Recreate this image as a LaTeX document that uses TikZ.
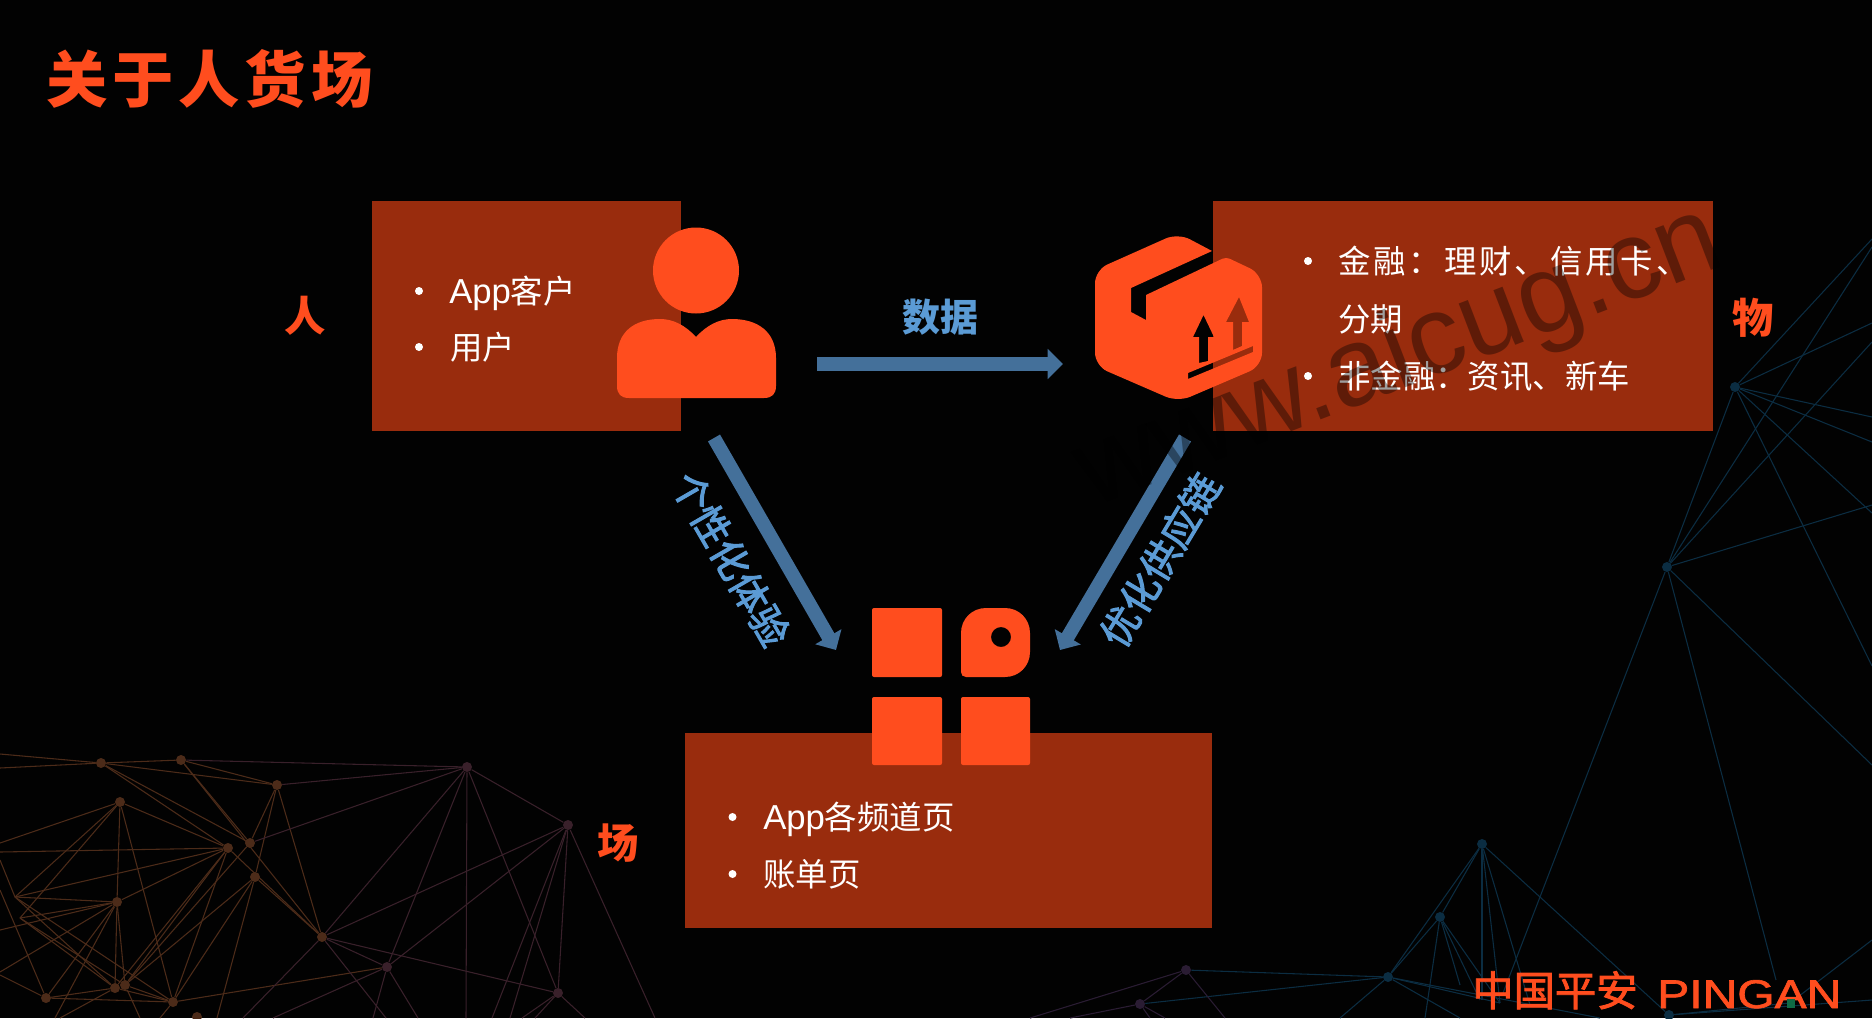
\documentclass[tikz,border=0pt]{standalone}
\usepackage{fontspec}
\usepackage{graphicx}
\setmainfont{Noto Sans CJK SC}
\newfontfamily\logofont{Liberation Sans}
\usetikzlibrary{arrows.meta}

\definecolor{pageBlack}{HTML}{020202}
\definecolor{boxRust}{HTML}{992C0D}
\definecolor{iconOrange}{HTML}{FF4D1E}
\definecolor{arrowBlue}{HTML}{44709A}
\definecolor{textBlue}{HTML}{5B9BD5}
\definecolor{logoGreen}{HTML}{0F6B45}
\definecolor{netBrown}{HTML}{4C2B19}
\definecolor{netWine}{HTML}{39202A}
\definecolor{netBlue}{HTML}{0B2D42}
\definecolor{netPlum}{HTML}{2A1C33}

\newcommand{\appword}{{\logofont\fontsize{26}{26}\selectfont App}}

\tikzset{
	infobox/.style={fill=boxRust, draw=none, inner sep=0pt, anchor=north west},
	itemtext/.style={font=\fontsize{24.3}{24.3}\selectfont, text=white, anchor=base west, inner sep=0pt},
	bulletdot/.style={circle, fill=white, inner sep=0pt, minimum size=6pt},
	sidelabel/.style={font=\fontsize{31}{31}\selectfont\bfseries, text=iconOrange, inner sep=0pt},
	flowlabel/.style={font=\fontsize{28.5}{28.5}\selectfont\bfseries, text=textBlue, inner sep=0pt},
	slantlabel/.style={font=\fontsize{29}{29}\selectfont\addfontfeature{FakeBold=2.5}, text=textBlue, inner sep=0pt},
	flowarrow/.style={draw=arrowBlue, line width=10.4pt, -{Triangle[length=11.5pt,width=22pt]}},
	netdot/.style={circle, fill=#1, inner sep=0pt, minimum size=7.5pt},
}

\begin{document}
\begin{tikzpicture}[x=0.75pt, y=-0.75pt]
	% page, coordinates are pixels of the slide
	\useasboundingbox (0,0) rectangle (1872,1018);
	\fill[pageBlack] (0,0) rectangle (1872,1018);

	% network lower left
	\foreach \name/\px/\py/\col in {
		la/101/763/netBrown, lb/181/760/netBrown, lc/277/785/netBrown,
		ld/467/767/netWine, le/568/825/netWine, lf/120/802/netBrown,
		lg/228/848/netBrown, lh/250/843/netBrown, li/255/877/netBrown,
		lj/117/902/netBrown, lm/322/937/netBrown, ln/387/967/netWine,
		lo/558/993/netWine, lp/115/988/netBrown, lq/125/985/netBrown,
		lr/173/1002/netBrown, ls/46/998/netBrown, lt/197/1017/netBrown} {
		\node[netdot=\col] (\name) at (\px,\py) {};
	}
	\coordinate (lk) at (15,897);
	\coordinate (ll) at (20,918);
	\foreach \a/\b in {
		la/lb, la/lc, lb/lc, lb/lm, lb/lh, la/lg, la/lh, lc/lh, lc/li, lc/lm,
		lf/lg, lf/lj, lf/lr, lf/lk, lf/ll, lg/lj, lg/lk, lg/lp, lg/lq, lg/lr,
		lh/lq, li/lq, li/lr, li/lm, lg/lm, lj/lk, lj/ll, lj/lp, lj/ls,
		lk/lp, lk/lr, ll/lp, ll/lq, lq/lr, lp/lr, ls/lp, ls/lr,
		lr/ln, la/{0,754}, la/{0,768}, lf/{0,843}, lg/{0,852}, lj/{0,972},
		lk/{0,860}, lj/{0,930}, ls/{0,975}, li/{217,1018}, lq/{140,1018},
		lp/{60,1018}, lr/{160,1018}, lj/lq, lj/{55,1018}, ls/{0,890}} {
		\draw[netBrown, line width=0.8pt] (\a) -- (\b);
	}
	\foreach \a/\b in {
		lb/ld, lc/ld, ld/lh, ld/lm, ld/ln, ld/lo, ld/le, le/lm, le/ln, le/lo,
		lm/ln, lm/lo, lm/{243,1018}, lm/{386,1018}, ln/{273,1018}, ln/{373,1018},
		ln/{418,1018}, ld/{466,1018}, le/{655,1018}, le/{492,1018}, le/{510,1018},
		lo/{522,1018}, lo/{535,1018}, lo/{585,1018}} {
		\draw[netWine, line width=0.8pt] (\a) -- (\b);
	}

	% network right side and lower right
	\foreach \name/\px/\py/\col in {
		ra/1735/387/netBlue, rb/1667/567/netBlue, rc/1482/844/netBlue,
		rd/1440/917/netBlue, re/1388/977/netBlue, rf/1669/1015/netBlue,
		rg/1186/970/netPlum, rh/1140/1004/netPlum} {
		\node[netdot=\col] (\name) at (\px,\py) {};
	}
	\foreach \a/\b in {
		ra/rb, ra/{1872,239}, ra/{1872,323}, ra/{1872,417}, ra/{1872,442},
		ra/{1872,513}, ra/{1872,666}, rb/{1872,247}, rb/{1872,342}, rb/{1872,505},
		rb/{1872,765}, rb/{1503,993}, rb/{1776,980}, rc/rd, rc/re, rc/rf,
		rc/{1482,1000}, rc/{1500,1003}, rc/{1530,1005}, rd/re, rd/{1425,1018},
		rd/{1480,1000}, rd/{1500,1003}, rd/{1460,985}, re/{1340,1018},
		re/{1460,1018}, re/{1500,1003}, re/{1600,1018}, rf/{1790,1003},
		rf/{1872,1000}, {1790,1003}/{1872,940}, re/rh, re/rg} {
		\draw[netBlue, line width=0.8pt] (\a) -- (\b);
	}
	\foreach \a/\b in {rg/rh, rg/{1030,1018}, rg/{1225,1018}, rh/{1070,1018}, rh/{1150,1018}, rh/{1165,1018}} {
		\draw[netPlum, line width=0.8pt] (\a) -- (\b);
	}

	% boxes
	\node[infobox, minimum width=231.75pt, minimum height=172.5pt] (renBox) at (372,201) {};
	\node[infobox, minimum width=375pt, minimum height=172.5pt] (huoBox) at (1213,201) {};
	\node[infobox, minimum width=395.25pt, minimum height=146.25pt] (changBox) at (685,733) {};

	% person icon
	\fill[iconOrange] (696,270.5) circle [radius=43];
	\fill[iconOrange] (696,337) .. controls (685,325) and (673,319) .. (660,319)
		.. controls (634,319) and (617,332) .. (617,358) -- (617,386)
		.. controls (617,394) and (621,398) .. (629,398) -- (764,398)
		.. controls (772,398) and (776,394) .. (776,386) -- (776,358)
		.. controls (776,332) and (758,319) .. (732,319)
		.. controls (719,319) and (707,325) .. (696,337) -- cycle;

	% parcel icon, holes show what lies below
	\fill[iconOrange, even odd rule]
		[rounded corners=10pt] (1095,320) -- (1095,270) -- (1178,233)
		[sharp corners] -- (1212,251) -- (1131,288) -- (1131,312) -- (1146,320) -- (1146,295)
		[rounded corners=3pt] -- (1226,257)
		[rounded corners=10pt] -- (1262,274) -- (1262,366) -- (1178,402) -- (1095,366) -- cycle
		[sharp corners]
		(1203.5,315) -- (1214,337) -- (1208,337) -- (1208,361) -- (1199,363) -- (1199,337) -- (1193,337) -- cycle
		(1239,297) -- (1249,322) -- (1242,322) -- (1242,346) -- (1233,350) -- (1233,322) -- (1226,322) -- cycle
		(1188,373) -- (1253,346) -- (1253,352) -- (1188,379) -- cycle;

	% scene icon
	\fill[iconOrange, rounded corners=1.5pt] (872,608) rectangle (942,677);
	\fill[iconOrange, rounded corners=1.5pt] (872,697) rectangle (942,765);
	\fill[iconOrange, rounded corners=1.5pt] (961,697) rectangle (1030,765);
	\fill[iconOrange, even odd rule] (961,633) .. controls (961,619) and (972,608) .. (986,608)
		-- (1005,608) .. controls (1019,608) and (1030,619) .. (1030,633)
		-- (1030,652) .. controls (1030,666) and (1019,677) .. (1005,677)
		-- (966,677) .. controls (963,677) and (961,675) .. (961,672) -- cycle
		(1001,637) circle [radius=10];

	% item lists
	\foreach \bx/\by in {419/291, 419/347, 1308/261, 1308/376, 732.5/817, 732.5/874} {
		\node[bulletdot] at (\bx,\by) {};
	}
	\node[itemtext] (renOne) at (449,303) {\appword 客户};
	\node[itemtext] (renTwo) at (450,359) {用户};
	\node[itemtext] (huoOne) at (1338,273) {\addfontfeature{LetterSpace=9}金融：理财、信用卡、};
	\node[itemtext] (huoTwo) at (1338,331) {分期};
	\node[itemtext] (huoThree) at (1338,388) {非金融：资讯、新车};
	\node[itemtext] (changOne) at (763,829) {\appword 各频道页};
	\node[itemtext] (changTwo) at (763,886) {账单页};

	% labels
	\node[inner sep=0pt, anchor=base west, text=iconOrange,
		font=\fontsize{46}{46}\selectfont\bfseries\addfontfeature{LetterSpace=8}]
		(titleText) at (46,102) {关于人货场};
	\node[sidelabel] (renLabel) at (305.5,316) {人};
	\node[sidelabel] (huoLabel) at (1753,318) {物};
	\node[sidelabel] (changLabel) at (618,843) {场};

	% flows
	\coordinate (dataStart) at (817,364);
	\coordinate (dataEnd) at (1063,364);
	\coordinate (leftStart) at (714,438);
	\coordinate (leftEnd) at (836,650);
	\coordinate (rightStart) at (1185,438);
	\coordinate (rightEnd) at (1060,650);
	\draw[flowarrow] (dataStart) -- (dataEnd);
	\draw[flowarrow] (leftStart) -- (leftEnd);
	\draw[flowarrow] (rightStart) -- (rightEnd);
	\node[flowlabel] (dataLabel) at (940,317) {数据};
	\node[slantlabel, rotate=-60] (leftLabel) at (731,559) {个性化体验};
	\node[slantlabel, rotate=59] (rightLabel) at (1160,560) {优化供应链};

	% logo
	\node[inner sep=0pt, anchor=base west, text=iconOrange,
		font=\fontsize{31}{31}\selectfont\addfontfeature{FakeBold=2}] (logoCn) at (1472,1006) {中国平安};
	\node[inner sep=0pt, anchor=base west, text=iconOrange,
		font=\logofont\fontsize{30}{30}\selectfont\addfontfeature{FakeBold=1.5}] (logoEn) at (1657,1008)
		{\scalebox{1.2}[1]{PINGAN}};
	\fill[logoGreen] (1787,999) rectangle (1795,1008);

	% watermark
	\node[inner sep=0pt, anchor=base west, rotate=21, text=black, text opacity=0.38,
		font=\logofont\fontsize{83.5}{83.5}\selectfont] (markText) at (1092,508) {www.aicug.cn};
\end{tikzpicture}
\end{document}
